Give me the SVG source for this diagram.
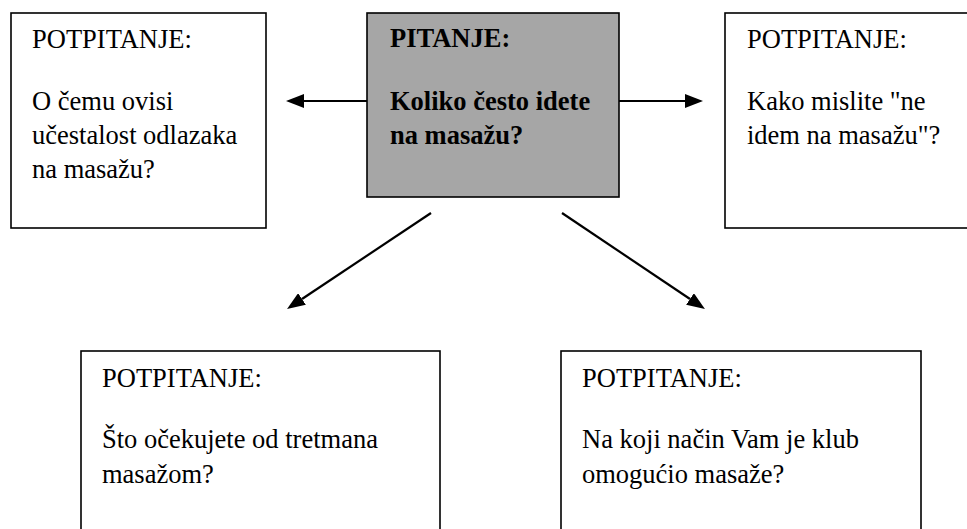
<svg xmlns="http://www.w3.org/2000/svg" width="967" height="529" viewBox="0 0 967 529">
<style>
.box{fill:#ffffff;stroke:#000000;stroke-width:1.6}
.main{fill:#a6a6a6;stroke:#000000;stroke-width:1.6}
text{font-family:"Liberation Serif","Times New Roman",serif;font-size:26.5px;fill:#000000}
.b{font-weight:bold}
.conn{stroke:#000000;stroke-width:2.2;fill:none}
</style>
<defs>
<marker id="ah" viewBox="0 0 18 14" refX="0" refY="7" markerWidth="18" markerHeight="14" markerUnits="userSpaceOnUse" orient="auto">
<path d="M0,0 L18,7 L0,14 Z" fill="#000000"/>
</marker>
</defs>
<rect x="0" y="0" width="967" height="529" fill="#ffffff"/>
<g id="connectors">
<line class="conn" x1="367" y1="101" x2="304" y2="101" marker-end="url(#ah)"/>
<line class="conn" x1="619" y1="101" x2="685" y2="101" marker-end="url(#ah)"/>
<line class="conn" x1="431" y1="213" x2="302" y2="299" marker-end="url(#ah)"/>
<line class="conn" x1="562" y1="213" x2="690" y2="299" marker-end="url(#ah)"/>
</g>
<g id="node-left">
<rect class="box" x="11" y="13" width="255" height="215"/>
<text x="32" y="48">POTPITANJE:</text>
<text x="32" y="110">O čemu ovisi</text>
<text x="32" y="144">učestalost odlazaka</text>
<text x="32" y="178">na masažu?</text>
</g>
<g id="node-center">
<rect class="main" x="367" y="13" width="252" height="184"/>
<text class="b" x="390" y="47">PITANJE:</text>
<text class="b" x="390" y="110">Koliko često idete</text>
<text class="b" x="390" y="144">na masažu?</text>
</g>
<g id="node-right">
<rect class="box" x="725" y="13" width="250" height="215"/>
<text x="747" y="48">POTPITANJE:</text>
<text x="747" y="110">Kako mislite "ne</text>
<text x="747" y="144">idem na masažu"?</text>
</g>
<g id="node-bottom-left">
<rect class="box" x="81" y="351" width="359" height="200"/>
<text x="102" y="387">POTPITANJE:</text>
<text x="102" y="448">Što očekujete od tretmana</text>
<text x="102" y="483">masažom?</text>
</g>
<g id="node-bottom-right">
<rect class="box" x="561" y="351" width="360" height="200"/>
<text x="582" y="387">POTPITANJE:</text>
<text x="582" y="448">Na koji način Vam je klub</text>
<text x="582" y="483">omogućio masaže?</text>
</g>
</svg>
